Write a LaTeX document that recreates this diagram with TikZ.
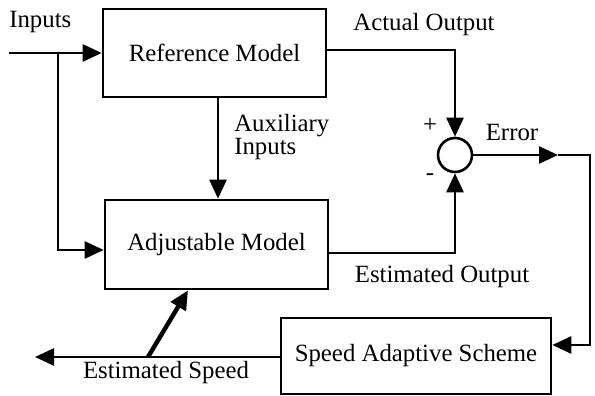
\documentclass[tikz,border=0pt]{standalone}
\usepackage{fontspec}
\setmainfont{Liberation Serif}
\usetikzlibrary{arrows.meta}
\tikzset{
  blockbox/.style={draw, line width=1.3bp, inner sep=0pt},
  sumnode/.style={draw, circle, line width=1.3bp, minimum size=17bp, inner sep=0pt},
  labeltext/.style={inner sep=0pt}
}
\begin{document}
\begin{tikzpicture}[x=0.5bp, y=-0.5bp, line width=1.3bp,
    >={Triangle[length=9.5bp,width=8.5bp]},
    font=\fontsize{12.4bp}{14bp}\selectfont]
        \useasboundingbox (0,0) rectangle (595,396);
        
        % Blocks
        \node[blockbox, minimum width=111.5bp, minimum height=44bp] (refmodel) at (214.5,53) {Reference Model};%
        \node[blockbox, minimum width=111.5bp, minimum height=44.5bp] (adjmodel) at (216.5,244.5) {Adjustable Model};%
        \node[blockbox, minimum width=135bp, minimum height=38bp] (speedscheme) at (416,356) {Speed Adaptive Scheme};%
        \node[sumnode] (sum) at (455,155) {};%
        
        % Inputs to both models
        \coordinate (inputs) at (9,53);%
        \coordinate (split) at (58,53);%
        \draw[->] (inputs) -- (refmodel.west);%
        \draw[->] (split) |- (adjmodel.west |- 0,250);%
        
        % Auxiliary inputs
        \draw[->] (218,0 |- refmodel.south) -- (218,0 |- adjmodel.north);%
        
        % Actual and estimated output to the sum
        \draw[->] (refmodel.east |- 0,50) -| (sum.north);%
        \draw[->] (adjmodel.east |- 0,253) -| (sum.south);%
        
        % Error to the adaptive scheme
        \coordinate (errmid) at (558,155);%
        \coordinate (errcorner) at (590,155);%
        \draw[->] (sum.east) -- (errmid);%
        \draw[->] (errmid) -- (errcorner) |- (speedscheme.east |- 0,345);%
        
        % Estimated speed
        \coordinate (speedout) at (35,357);%
        \coordinate (speedtap) at (148,357);%
        \draw[->] (speedscheme.west |- speedout) -- (speedout);%
        \draw[->, line width=2.2bp] (speedtap) -- (188,0 |- adjmodel.south);%
        
        % Labels
        \node[labeltext, anchor=west] (inputslabel) at (8,22) {Inputs};%
        \node[labeltext] (actuallabel) at (424,25) {Actual Output};%
        \node[labeltext, anchor=west, align=left] (auxlabel) at (233,137) {Auxiliary\\[-2.5bp]Inputs};%
        \node[labeltext] (pluslabel) at (430,126) {+};%
        \node[labeltext] (minuslabel) at (430,177) {-};%
        \node[labeltext] (errorlabel) at (512,133) {Error};%
        \node[labeltext] (estoutlabel) at (442,277) {Estimated Output};%
        \node[labeltext] (estspeedlabel) at (166,373) {Estimated Speed};%
    \end{tikzpicture}
\end{document}
